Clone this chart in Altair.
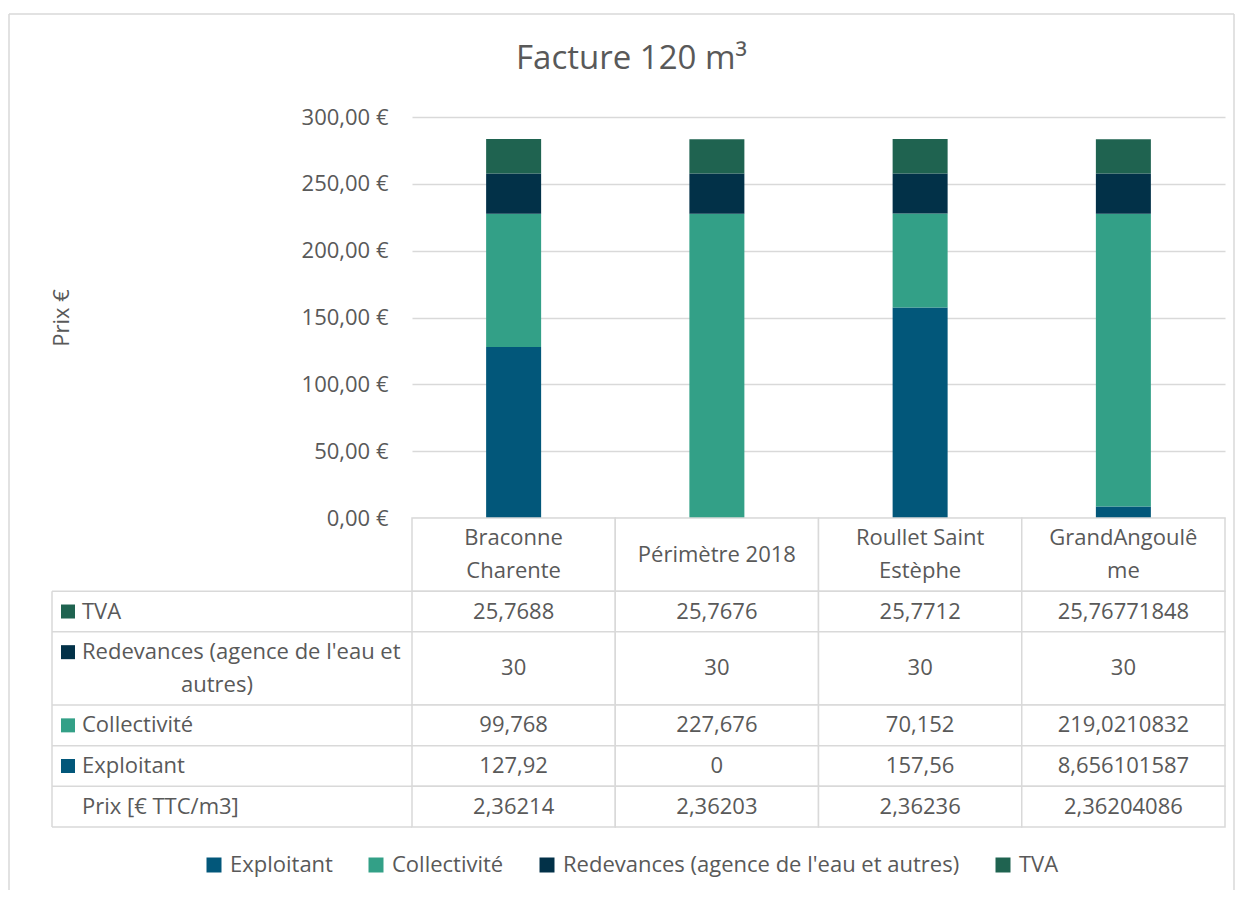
import altair as alt
import pandas as pd

# ---------------- data ----------------
categories = ["Braconne Charente", "Périmètre 2018", "Roullet Saint Estèphe", "GrandAngoulême"]
header_lines = [["Braconne", "Charente"], ["Périmètre 2018"], ["Roullet Saint", "Estèphe"], ["GrandAngoulê", "me"]]

series = ["Exploitant", "Collectivité", "Redevances (agence de l'eau et autres)", "TVA"]
colors = ["#02577A", "#33A087", "#023148", "#1F6350"]

exploitant = [127.92, 0, 157.56, 8.656101587]
collectivite = [99.768, 227.676, 70.152, 219.0210832]
redevances = [30, 30, 30, 30]
tva = [25.7688, 25.7676, 25.7712, 25.76771848]
prix = [2.36214, 2.36203, 2.36236, 2.36204086]

y_ticks = [0, 50, 100, 150, 200, 250, 300]

# table rows, top to bottom: (label lines, values, series colour key or None)
table_rows = [
    (["TVA"], tva, "TVA"),
    (["Redevances (agence de l'eau et", "autres)"], redevances, "Redevances (agence de l'eau et autres)"),
    (["Collectivité"], collectivite, "Collectivité"),
    (["Exploitant"], exploitant, "Exploitant"),
    (["Prix [€ TTC/m3]"], prix, None),
]

TXT = "#595959"
GRID = "#D9D9D9"
FONT = "Open Sans"
FS = 22
LABEL_COL = 360  # width of the label column, left of the plot area

# outer chart-area frame, relative to the table's origin
FRAME_L, FRAME_R, FRAME_T, FRAME_B = -403, 822, -504, 372


def fmt(v):
    return str(v).replace(".", ",")


# ---------------- bar data ----------------
bar_rows = []
for k, (s, vals) in enumerate(zip(series, [exploitant, collectivite, redevances, tva])):
    for c, v in zip(categories, vals):
        bar_rows.append({"category": c, "series": s, "value": v, "order": k})
bars_df = pd.DataFrame(bar_rows)

color_scale = alt.Scale(domain=series, range=colors)

# ---------------- table layout (row heights from line counts) ----------------
LINE = 0.8


def weight(n):
    return 1 + LINE * (n - 1)


row_specs = [("header", max(len(h) for h in header_lines))] + [(r[0][0], len(r[0])) for r in table_rows]
tops, bottoms = [], []
acc = 0.0
for _, n in row_specs:
    tops.append(acc)
    acc += weight(n)
    bottoms.append(acc)
TOTAL = acc


def line_y(row_idx, k, n):
    mid = (tops[row_idx] + bottoms[row_idx]) / 2
    return mid + (k - (n - 1) / 2) * LINE


cells, vtext = [], []
for ci, c in enumerate(categories):
    cells.append({"category": c, "top": tops[0], "bottom": bottoms[0]})
    hl = header_lines[ci]
    for k, t in enumerate(hl):
        vtext.append({"category": c, "y": line_y(0, k, len(hl)), "text": t})
    for ri, (lines, vals, _) in enumerate(table_rows, start=1):
        cells.append({"category": c, "top": tops[ri], "bottom": bottoms[ri]})
        vtext.append({"category": c, "y": (tops[ri] + bottoms[ri]) / 2, "text": fmt(vals[ci])})
cells_df = pd.DataFrame(cells)
vtext_df = pd.DataFrame(vtext)

ltext_first, ltext_cont, squares = [], [], []
for ri, (lines, vals, key) in enumerate(table_rows, start=1):
    n = len(lines)
    for k, t in enumerate(lines):
        rec = {"y": line_y(ri, k, n), "text": t}
        (ltext_first if k == 0 else ltext_cont).append(rec)
    if key is not None:
        squares.append({"y": line_y(ri, 0, n), "series": key})
ltext_first_df = pd.DataFrame(ltext_first)
ltext_cont_df = pd.DataFrame(ltext_cont)
squares_df = pd.DataFrame(squares)
hlines_df = pd.DataFrame({"y": bottoms})
vline_df = pd.DataFrame({"y": [bottoms[0]], "y2": [TOTAL]})
frame_df = pd.DataFrame({"part": ["frame"]})

tscale = alt.Scale(domain=[0, TOTAL], reverse=True, nice=False, zero=False)
xband = alt.Scale(paddingInner=0, paddingOuter=0)
noview = alt.ViewBackground(stroke="transparent", strokeWidth=0)

# ---------------- bar chart ----------------
bars = alt.Chart(bars_df).mark_bar(size=55).encode(
    x=alt.X("category:N", sort=categories, axis=None, scale=xband),
    y=alt.Y(
        "value:Q",
        stack="zero",
        scale=alt.Scale(domain=[0, 300], nice=False),
        axis=alt.Axis(
            values=y_ticks,
            labelExpr="replace(format(datum.value, '.2f'), '.', ',') + ' €'",
            title="Prix €",
            grid=True,
            gridColor=GRID,
            gridWidth=1.5,
            domain=False,
            ticks=False,
            labelPadding=24,
            labelFontSize=FS,
            labelColor=TXT,
            labelFont=FONT,
            titleFont=FONT,
            titleFontSize=FS,
            titleFontWeight="normal",
            titleColor=TXT,
            minExtent=332,
            maxExtent=332,
            titlePadding=7,
        ),
    ),
    color=alt.Color(
        "series:N",
        scale=color_scale,
        sort=series,
        legend=alt.Legend(
            orient="none",
            legendX=-209,
            legendY=737,
            direction="horizontal",
            title=None,
            symbolType="square",
            symbolSize=225,
            symbolStrokeWidth=0,
            labelFontSize=FS,
            labelColor=TXT,
            labelFont=FONT,
            labelLimit=600,
            columnPadding=32,
            labelOffset=5,
        ),
    ),
    order=alt.Order("order:Q"),
).properties(
    width=813,
    height=401,
    view=noview,
    title=alt.TitleParams(
        "Facture 120 m³",
        fontSize=33,
        font=FONT,
        fontWeight="normal",
        color=TXT,
        anchor="middle",
        offset=30,
        dx=-187,
    ),
)

# ---------------- table (value cells + label column left of the plot origin) ----------------
vcells = alt.Chart(cells_df).mark_rect(fill="white", stroke=GRID, strokeWidth=1.5).encode(
    x=alt.X("category:N", sort=categories, axis=None, scale=xband),
    y=alt.Y("top:Q", scale=tscale, axis=None),
    y2="bottom:Q",
)
vtexts = alt.Chart(vtext_df).mark_text(fontSize=FS, color=TXT, font=FONT, baseline="middle").encode(
    x=alt.X("category:N", sort=categories, axis=None, scale=xband),
    y=alt.Y("y:Q", scale=tscale, axis=None),
    text="text:N",
)
hrules = alt.Chart(hlines_df).mark_rule(color=GRID, strokeWidth=1.5).encode(
    x=alt.value(-LABEL_COL), x2=alt.value(0), y=alt.Y("y:Q", scale=tscale, axis=None)
)
vrule = alt.Chart(vline_df).mark_rule(color=GRID, strokeWidth=1.5).encode(
    x=alt.value(-LABEL_COL), y=alt.Y("y:Q", scale=tscale, axis=None), y2="y2:Q"
)
sq = alt.Chart(squares_df).mark_square(size=196, opacity=1).encode(
    x=alt.value(-LABEL_COL + 16),
    y=alt.Y("y:Q", scale=tscale, axis=None),
    color=alt.Color("series:N", scale=color_scale, legend=None),
)
ltf = alt.Chart(ltext_first_df).mark_text(fontSize=FS, color=TXT, font=FONT, align="left", baseline="middle").encode(
    x=alt.value(-LABEL_COL + 30), y=alt.Y("y:Q", scale=tscale, axis=None), text="text:N"
)
ltc = alt.Chart(ltext_cont_df).mark_text(fontSize=FS, color=TXT, font=FONT, align="center", baseline="middle").encode(
    x=alt.value(-LABEL_COL + 165), y=alt.Y("y:Q", scale=tscale, axis=None), text="text:N"
)
# light frame of the chart area (top, left, right edges)
frame_base = alt.Chart(frame_df).mark_rule(color=GRID, strokeWidth=1.5)
frame_top = frame_base.encode(x=alt.value(FRAME_L), x2=alt.value(FRAME_R), y=alt.value(FRAME_T))
frame_left = frame_base.encode(x=alt.value(FRAME_L), y=alt.value(FRAME_T), y2=alt.value(FRAME_B))
frame_right = frame_base.encode(x=alt.value(FRAME_R), y=alt.value(FRAME_T), y2=alt.value(FRAME_B))

table = alt.layer(
    frame_top, frame_left, frame_right, hrules, vrule, vcells, vtexts, sq, ltf, ltc
).properties(width=813, height=309, view=noview)

chart = (
    alt.vconcat(bars, table, spacing=0, bounds="flush")
    .properties(padding={"left": 0, "top": 5, "right": 0, "bottom": 0})
    .configure_view(stroke="transparent", strokeWidth=0)
    .configure(font=FONT)
)

chart.save("out.html", embed_options={"renderer": "svg", "actions": False})
